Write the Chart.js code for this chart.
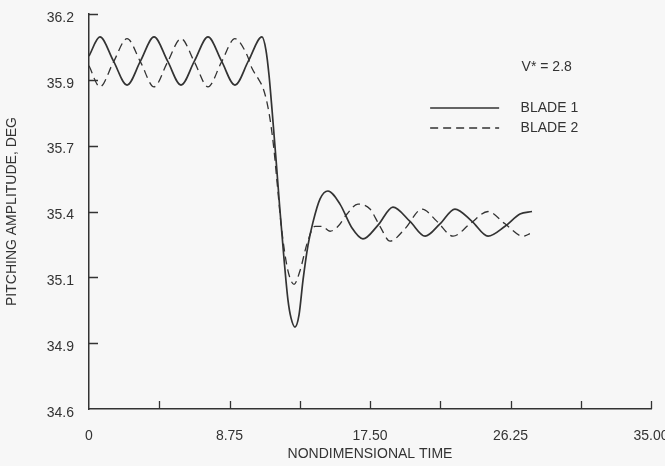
<!DOCTYPE html>
<html>
<head>
<meta charset="utf-8">
<script src="https://cdn.jsdelivr.net/npm/chart.js@4.4.0/dist/chart.umd.min.js"></script>
<style>
  html, body { margin: 0; padding: 0; background: #f7f7f7; }
  #wrap { width: 665px; height: 466px; }
</style>
</head>
<body>
<div id="wrap"><canvas id="myChart" width="665" height="466"></canvas></div>
<script>
var FONT = "'Liberation Sans Narrow', 'Arial Narrow', 'Liberation Sans', sans-serif";
var INK = '#333333';

// axis ticks
var xTickValues = [0, 4.375, 8.75, 13.125, 17.5, 21.875, 26.25, 30.625, 35];
var xTickLabels = ['0', '', '8.75', '', '17.50', '', '26.25', '', '35.00'];
var yTickValues = [34.6, 34.867, 35.133, 35.4, 35.667, 35.933, 36.2];
var yTickLabels = ['34.6', '34.9', '35.1', '35.4', '35.7', '35.9', '36.2'];

// blade 1 (solid)
var timeBlade1 = [0, 0.68, 1.52, 2.37, 3.21, 4.05, 4.89, 5.73, 6.57, 7.41, 8.25, 9.09, 9.93, 10.77,
  11.02, 11.21, 11.40, 11.65, 11.89, 12.14, 12.39, 12.58, 12.83, 13.08, 13.33, 13.64, 13.95, 14.39, 14.88,
  15.63, 16.38, 17.06, 18.0, 18.93, 19.99, 20.93, 21.86, 22.79, 23.85, 24.85, 25.91, 26.84, 27.59];
var pitchBlade1 = [36.03, 36.107, 36.01, 35.912, 36.01, 36.107, 36.01, 35.912, 36.01, 36.107, 36.01, 35.912, 36.01, 36.107,
  36.054, 35.953, 35.811, 35.609, 35.406, 35.212, 35.042, 34.969, 34.932, 34.981, 35.123, 35.264, 35.357, 35.451, 35.483,
  35.43, 35.333, 35.289, 35.345, 35.418, 35.36, 35.30, 35.35, 35.41, 35.36, 35.30, 35.34, 35.39, 35.40];

// blade 2 (dashed)
var timeBlade2 = [0, 0.68, 1.52, 2.37, 3.21, 4.05, 4.89, 5.73, 6.57, 7.41, 8.25, 9.09, 9.84, 10.15, 10.52, 10.84,
  11.09, 11.33, 11.52, 11.71, 11.96, 12.27, 12.52, 12.77, 13.14, 13.58, 14.07, 14.51, 15.01, 15.51, 16.07, 16.75,
  17.50, 18.12, 18.75, 19.68, 20.74, 21.67, 22.67, 23.73, 24.85, 25.91, 27.03, 27.46];
var pitchBlade2 = [35.99, 35.905, 36.005, 36.10, 36.005, 35.905, 36.005, 36.10, 36.005, 35.905, 36.005, 36.10, 36.034, 35.98, 35.94, 35.90,
  35.84, 35.75, 35.65, 35.52, 35.35, 35.20, 35.13, 35.105, 35.16, 35.27, 35.34, 35.34, 35.32, 35.34, 35.39, 35.43,
  35.41, 35.34, 35.28, 35.33, 35.41, 35.36, 35.30, 35.35, 35.40, 35.35, 35.30, 35.31];

function toPoints(xs, ys) {
  return xs.map(function (x, i) { return { x: x, y: ys[i] }; });
}

// inward tick marks, legend and V* note
var decorations = {
  id: 'decorations',
  afterDraw: function (chart) {
    var ctx = chart.ctx, a = chart.chartArea, sx = chart.scales.x, sy = chart.scales.y;
    ctx.save();
    ctx.strokeStyle = INK;
    ctx.lineWidth = 1.3;
    ctx.beginPath();
    sx.ticks.forEach(function (t) {
      if (t.value === sx.min) return;
      var px = Math.round(sx.getPixelForValue(t.value)) + 0.5;
      ctx.moveTo(px, a.bottom);
      ctx.lineTo(px, a.bottom - 8);
    });
    sy.ticks.forEach(function (t) {
      if (t.value === sy.min) return;
      var py = Math.round(sy.getPixelForValue(t.value)) + 0.5;
      ctx.moveTo(a.left, py);
      ctx.lineTo(a.left + 9, py);
    });
    ctx.stroke();

    var lx = a.left + (a.right - a.left) * 0.607;
    var tx = a.left + (a.right - a.left) * 0.768;
    ctx.fillStyle = INK;
    ctx.font = '14px ' + FONT;
    ctx.textBaseline = 'middle';
    ctx.fillText('V* = 2.8', tx + 1, a.top + 53);
    chart.data.datasets.forEach(function (ds, i) {
      var y = a.top + 94 + i * 20;
      ctx.beginPath();
      ctx.lineWidth = ds.borderWidth;
      ctx.setLineDash(ds.borderDash || []);
      ctx.moveTo(lx, y);
      ctx.lineTo(lx + 69, y);
      ctx.stroke();
      ctx.setLineDash([]);
      ctx.fillText(ds.label, tx, y);
    });
    ctx.restore();
  }
};

var ctx = document.getElementById('myChart').getContext('2d');
var myChart = new Chart(ctx, {
  type: 'line',
  data: {
    datasets: [
      { label: 'BLADE 1', data: toPoints(timeBlade1, pitchBlade1), borderColor: INK, borderWidth: 1.7,
        pointRadius: 0, cubicInterpolationMode: 'monotone', fill: false },
      { label: 'BLADE 2', data: toPoints(timeBlade2, pitchBlade2), borderColor: INK, borderWidth: 1.3,
        borderDash: [8, 5], pointRadius: 0, cubicInterpolationMode: 'monotone', fill: false }
    ]
  },
  options: {
    responsive: false,
    animation: false,
    layout: { padding: { top: 14, right: 14, left: 0, bottom: 0 } },
    plugins: { legend: { display: false }, tooltip: { enabled: false } },
    scales: {
      x: {
        type: 'linear', min: 0, max: 35,
        afterBuildTicks: function (s) { s.ticks = xTickValues.map(function (v) { return { value: v }; }); },
        afterFit: function (s) { s.height = 57; s.paddingLeft = 0; s.paddingRight = 0; },
        ticks: {
          autoSkip: false, maxRotation: 0, padding: 19, color: INK,
          font: { family: FONT, size: 14 },
          callback: function (v, i) { return xTickLabels[i]; }
        },
        grid: { drawOnChartArea: false, drawTicks: false },
        border: { color: INK, width: 1.5 },
        title: { display: true, text: 'NONDIMENSIONAL TIME', color: INK,
          font: { family: FONT, size: 14 }, padding: { top: 0, bottom: 3 } }
      },
      y: {
        type: 'linear', min: 34.6, max: 36.2,
        afterBuildTicks: function (s) { s.ticks = yTickValues.map(function (v) { return { value: v }; }); },
        afterFit: function (s) { s.width = 89; s.paddingTop = 0; s.paddingBottom = 0; },
        ticks: {
          autoSkip: false, padding: 15, color: INK, labelOffset: 4,
          font: { family: FONT, size: 14 },
          callback: function (v, i) { return yTickLabels[i]; }
        },
        grid: { drawOnChartArea: false, drawTicks: false },
        border: { color: INK, width: 1.5 },
        title: { display: true, text: 'PITCHING AMPLITUDE, DEG', color: INK,
          font: { family: FONT, size: 14 }, padding: { top: 4, bottom: 0 } }
      }
    }
  },
  plugins: [decorations]
});
</script>
</body>
</html>
